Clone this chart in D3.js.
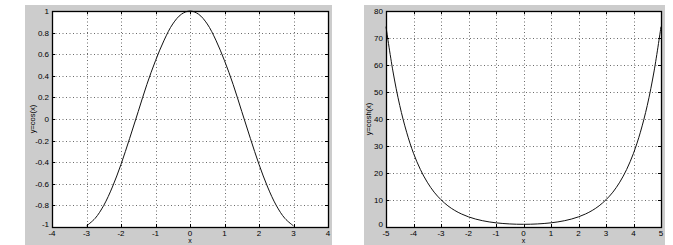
<!DOCTYPE html>
<html><head><meta charset="utf-8">
<script src="https://cdn.jsdelivr.net/npm/d3@7"></script>
<style>
body{margin:0;background:#fff;}
svg{display:block;}
text{font-family:"Liberation Sans",Arial,sans-serif;font-size:8px;fill:#000;}
</style></head><body>
<svg id="c" width="673" height="245"></svg>
<script>
// Left panel: y = cos(x)
const cosX = [-3,-2.75,-2.5,-2.25,-2,-1.75,-1.5,-1.25,-1,-0.75,-0.5,-0.25,0,0.25,0.5,0.75,1,1.25,1.5,1.75,2,2.25,2.5,2.75,3];
const cosY = [-0.99,-0.92,-0.80,-0.63,-0.42,-0.18,0.07,0.32,0.54,0.73,0.88,0.97,1.00,0.97,0.88,0.73,0.54,0.32,0.07,-0.18,-0.42,-0.63,-0.80,-0.92,-0.99];
const cosXTicks = [-4,-3,-2,-1,0,1,2,3,4];
const cosYTicks = [-1,-0.8,-0.6,-0.4,-0.2,0,0.2,0.4,0.6,0.8,1];
const cosYTickLabels = ["-1","-0.8","-0.6","-0.4","-0.2","0","0.2","0.4","0.6","0.8","1"];

// Right panel: y = cosh(x)
const coshX = [-5,-4.75,-4.5,-4.25,-4,-3.75,-3.5,-3.25,-3,-2.75,-2.5,-2.25,-2,-1.75,-1.5,-1.25,-1,-0.75,-0.5,-0.25,0,0.25,0.5,0.75,1,1.25,1.5,1.75,2,2.25,2.5,2.75,3,3.25,3.5,3.75,4,4.25,4.5,4.75,5];
const coshY = [74.2,57.8,45.0,35.1,27.3,21.3,16.6,12.9,10.1,7.85,6.13,4.80,3.76,2.96,2.35,1.89,1.54,1.30,1.13,1.03,1.00,1.03,1.13,1.30,1.54,1.89,2.35,2.96,3.76,4.80,6.13,7.85,10.1,12.9,16.6,21.3,27.3,35.1,45.0,57.8,74.2];
const coshXTicks = [-5,-4,-3,-2,-1,0,1,2,3,4,5];
const coshYTicks = [0,10,20,30,40,50,60,70,80];

const svg = d3.select("#c");

function panel(o){
  svg.append("rect").attr("x",o.bg[0]).attr("y",o.bg[1]).attr("width",o.bg[2]).attr("height",o.bg[3]).attr("fill","#cccccc");
  const x = d3.scaleLinear().domain(o.xd).range([o.l,o.r]);
  const y = d3.scaleLinear().domain(o.yd).range([o.b,o.t]);
  const g = svg.append("g");
  g.append("rect").attr("x",o.l).attr("y",o.t).attr("width",o.r-o.l).attr("height",o.b-o.t).attr("fill","#fff");
  // grid
  g.selectAll(".gx").data(o.xt.slice(1,-1)).join("line")
    .attr("x1",d=>Math.round(x(d))+0.5).attr("x2",d=>Math.round(x(d))+0.5)
    .attr("y1",o.t).attr("y2",o.b).attr("stroke","#444").attr("stroke-width",0.8).attr("stroke-dasharray","1,2.5");
  g.selectAll(".gy").data(o.yt.slice(1,-1)).join("line")
    .attr("y1",d=>Math.round(y(d))+0.5).attr("y2",d=>Math.round(y(d))+0.5)
    .attr("x1",o.l).attr("x2",o.r).attr("stroke","#444").attr("stroke-width",0.8).attr("stroke-dasharray","1,2.5");
  // inner ticks
  const tl=3;
  o.xt.forEach(d=>{
    const px=Math.round(x(d))+0.5;
    g.append("line").attr("x1",px).attr("x2",px).attr("y1",o.b).attr("y2",o.b-tl).attr("stroke","#000");
    g.append("line").attr("x1",px).attr("x2",px).attr("y1",o.t).attr("y2",o.t+tl).attr("stroke","#000");
  });
  o.yt.forEach(d=>{
    const py=Math.round(y(d))+0.5;
    g.append("line").attr("y1",py).attr("y2",py).attr("x1",o.l).attr("x2",o.l+tl).attr("stroke","#000");
    g.append("line").attr("y1",py).attr("y2",py).attr("x1",o.r).attr("x2",o.r-tl).attr("stroke","#000");
  });
  // curve
  const line = d3.line().x((d,i)=>x(o.xs[i])).y((d,i)=>y(o.ys[i])).curve(d3.curveCatmullRom);
  g.append("path").datum(o.xs).attr("d",line).attr("fill","none").attr("stroke","#111").attr("stroke-width",1);
  // box
  g.append("rect").attr("x",o.l+0.5).attr("y",o.t+0.5).attr("width",o.r-o.l).attr("height",o.b-o.t)
    .attr("fill","none").attr("stroke","#000").attr("stroke-width",1.3);
  // tick labels
  g.selectAll(".xl").data(o.xt).join("text").attr("x",d=>x(d)).attr("y",o.b+9)
    .attr("text-anchor","middle").text(d=>String(d).replace("-","-"));
  g.selectAll(".yl").data(o.yt).join("text").attr("x",o.l-3).attr("y",(d,i)=>y(d)+(i===0?0:3))
    .attr("text-anchor","end").text((d,i)=>o.ytl?o.ytl[i]:String(d));
  // labels
  g.append("text").attr("x",(o.l+o.r)/2).attr("y",243).attr("text-anchor","middle").style("font-size","7px").text("x");
  g.append("text").attr("transform",`translate(${o.ylx},${(o.t+o.b)/2}) rotate(-90)`).attr("text-anchor","middle")
    .style("font-size","7.5px").text(o.ylab);
}

panel({bg:[25,5,307,240], l:52, r:328, t:11, b:227, xd:[-4,4], yd:[-1,1], xt:cosXTicks, yt:cosYTicks, ytl:cosYTickLabels,
  xs:cosX, ys:cosY, ylab:"y=cos(x)", ylx:35});
panel({bg:[364,5,301,240], l:386, r:661, t:11, b:227, xd:[-5,5], yd:[0,80], xt:coshXTicks, yt:coshYTicks,
  xs:coshX, ys:coshY, ylab:"y=cosh(x)", ylx:371});
</script>
</body></html>
